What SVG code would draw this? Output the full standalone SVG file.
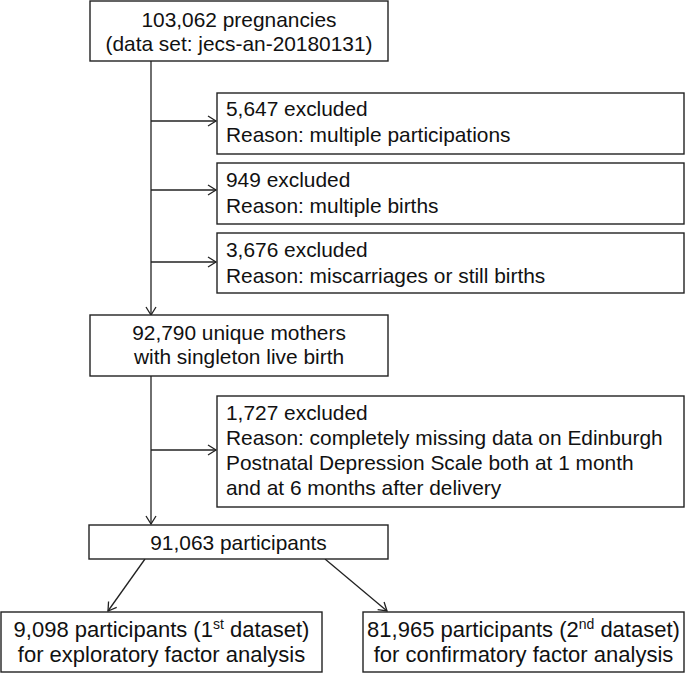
<svg xmlns="http://www.w3.org/2000/svg" width="685" height="673" viewBox="0 0 685 673">
<defs>
<style>
.box{fill:#fff;stroke:#222;stroke-width:1.4}
.t{font-family:"Liberation Sans",Arial,sans-serif;font-size:20.9px;fill:#111}
.b{font-size:22px}
.c{text-anchor:middle}
.ln{fill:none;stroke:#222;stroke-width:1.3}
.sup{font-size:14px}
</style>
<marker id="ah" markerUnits="userSpaceOnUse" markerWidth="12" markerHeight="12" viewBox="-9 -6 12 12" refX="0" refY="0" orient="auto">
<path d="M-8,-5 L0,0 L-8,5" fill="none" stroke="#222" stroke-width="1.3"/>
</marker>
</defs>
<rect width="685" height="673" fill="#fff"/>
<g id="connectors">
<path class="ln" d="M151,61 V315" marker-end="url(#ah)"/>
<path class="ln" d="M151,121 H216" marker-end="url(#ah)"/>
<path class="ln" d="M151,190 H216" marker-end="url(#ah)"/>
<path class="ln" d="M151,262 H216" marker-end="url(#ah)"/>
<path class="ln" d="M151,376 V524" marker-end="url(#ah)"/>
<path class="ln" d="M151,450 H216" marker-end="url(#ah)"/>
<path class="ln" d="M145,559 L108,611" marker-end="url(#ah)"/>
<path class="ln" d="M325,559 L387,611" marker-end="url(#ah)"/>
</g>
<g id="n_pregnancies">
<rect class="box" x="90" y="1" width="298" height="60"/>
<text class="t c" x="239" y="27">103,062 pregnancies</text>
<text class="t c" x="239" y="51">(data set: jecs-an-20180131)</text>
</g>
<g id="n_excl1">
<rect class="box" x="217" y="93" width="467" height="61"/>
<text class="t" x="226" y="116">5,647 excluded</text>
<text class="t" x="226" y="142">Reason: multiple participations</text>
</g>
<g id="n_excl2">
<rect class="box" x="217" y="163" width="467" height="61"/>
<text class="t" x="226" y="187">949 excluded</text>
<text class="t" x="226" y="213">Reason: multiple births</text>
</g>
<g id="n_excl3">
<rect class="box" x="217" y="233" width="467" height="60"/>
<text class="t" x="226" y="257">3,676 excluded</text>
<text class="t" x="226" y="283">Reason: miscarriages or still births</text>
</g>
<g id="n_mothers">
<rect class="box" x="90" y="315" width="298" height="61"/>
<text class="t c" x="239" y="340">92,790 unique mothers</text>
<text class="t c" x="239" y="364">with singleton live birth</text>
</g>
<g id="n_excl4">
<rect class="box" x="217" y="396" width="467" height="111"/>
<text class="t" x="226" y="420">1,727 excluded</text>
<text class="t" x="226" y="445">Reason: completely missing data on Edinburgh</text>
<text class="t" x="226" y="470">Postnatal Depression Scale both at 1 month</text>
<text class="t" x="226" y="495">and at 6 months after delivery</text>
</g>
<g id="n_participants">
<rect class="box" x="89" y="525" width="299" height="34"/>
<text class="t c" x="238.5" y="550">91,063 participants</text>
</g>
<g id="n_first">
<rect class="box" x="1" y="612" width="321" height="60"/>
<text class="t b c" x="161.5" y="637">9,098 participants (1<tspan class="sup" dy="-8">st</tspan><tspan dy="8"> dataset)</tspan></text>
<text class="t b c" x="161.5" y="662">for exploratory factor analysis</text>
</g>
<g id="n_second">
<rect class="box" x="363" y="612" width="321" height="60"/>
<text class="t b c" x="523.5" y="637">81,965 participants (2<tspan class="sup" dy="-8">nd</tspan><tspan dy="8"> dataset)</tspan></text>
<text class="t b c" x="523.5" y="662">for confirmatory factor analysis</text>
</g>
</svg>
